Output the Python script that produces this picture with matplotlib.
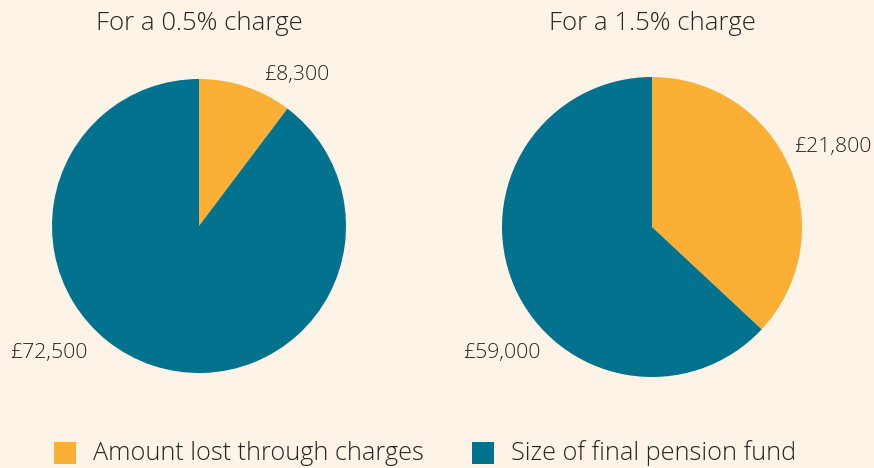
import matplotlib
matplotlib.use("Agg")
import matplotlib.pyplot as plt
from matplotlib.patches import Rectangle

# Data
titles = ["For a 0.5% charge", "For a 1.5% charge"]
series = ["Amount lost through charges", "Size of final pension fund"]
lost = [8300, 21800]
final = [72500, 59000]
# wedge sizes as drawn in the original (right pie is drawn as 21,800 of 59,000)
wedges = [[8300, 72500], [21800, 37200]]

colors = ["#fbaf34", "#03728e"]
bg = "#fdf3e6"
txt = "#262626"

plt.rcParams['font.family'] = ['Open Sans', 'DejaVu Sans']

W, H = 874, 468
fig = plt.figure(figsize=(W / 100, H / 100), dpi=100, facecolor=bg)

# pie centres / radii in pixels
pies = [(199, 226, 147), (652, 227, 150)]

for i, (cx, cy, r) in enumerate(pies):
    ax = fig.add_axes([(cx - r) / W, (H - cy - r) / H, 2 * r / W, 2 * r / H])
    ax.set_facecolor(bg)
    ax.pie(wedges[i], colors=colors, startangle=90, counterclock=False, radius=1,
           wedgeprops=dict(linewidth=0))
    ax.set_xlim(-1, 1)
    ax.set_ylim(-1, 1)
    ax.set_aspect('equal')
    ax.axis('off')
    fig.text(cx / W, 1 - 24 / H, titles[i], ha='center', va='center',
             fontsize=18.5, color=txt, fontweight='light')

# value labels
lab = dict(va='center', fontsize=15.3, color=txt, fontweight='light')
fig.text(264 / W, 1 - 75 / H, "£{:,}".format(lost[0]), ha='left', **lab)
fig.text(88 / W, 1 - 353 / H, "£{:,}".format(final[0]), ha='right', **lab)
fig.text(794 / W, 1 - 147 / H, "£{:,}".format(lost[1]), ha='left', **lab)
fig.text(541 / W, 1 - 353 / H, "£{:,}".format(final[1]), ha='right', **lab)

# legend
for i, x0 in enumerate([54, 472]):
    fig.add_artist(Rectangle((x0 / W, 1 - 464 / H), 22 / W, 22 / H,
                             transform=fig.transFigure, facecolor=colors[i], edgecolor='none'))
    fig.text((x0 + 39) / W, 1 - 453 / H, series[i], ha='left', va='center',
             fontsize=18.2, color=txt, fontweight='light')

fig.savefig("out.png", dpi=100, facecolor=bg)
